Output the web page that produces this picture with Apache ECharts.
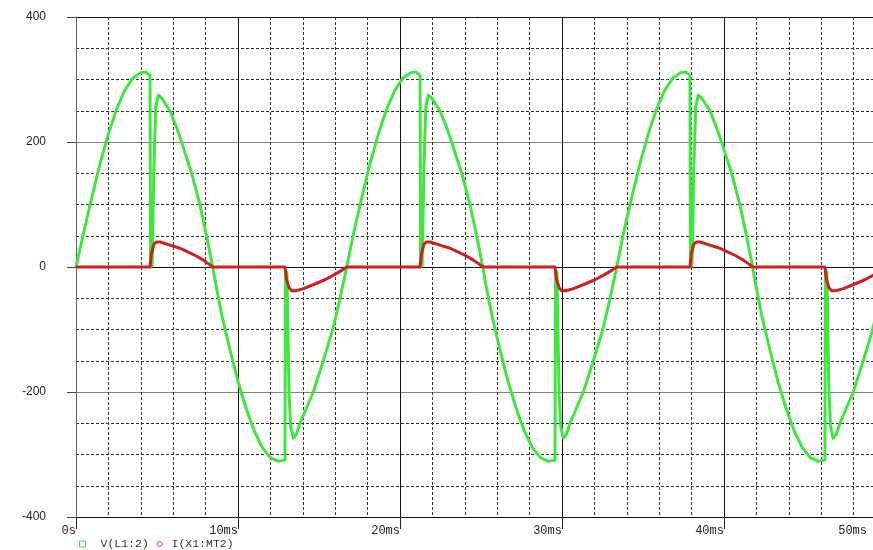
<!DOCTYPE html>
<html>
<head>
<meta charset="utf-8">
<script src="https://cdn.jsdelivr.net/npm/echarts@6/dist/echarts.min.js"></script>
<style>
html,body{margin:0;padding:0;background:#fff;}
#chart{width:873px;height:550px;}
</style>
</head>
<body>
<div id="chart"></div>
<script>
// ---- data (time in ms) ----
const seriesNames = ['V(L1:2)', 'I(X1:MT2)'];
const xTickLabels = ['0s', '10ms', '20ms', '30ms', '40ms', '50ms'];
const yTicks = [-400, -200, 0, 200, 400];

const vTime = [
  0.00, 0.50, 1.00, 1.50, 2.00, 2.50, 3.00, 3.50, 4.00, 4.30, 4.57, 4.60, 4.66, 4.70, 4.80, 4.92, 5.08, 5.30, 5.80, 6.20,
  6.52, 7.14, 7.65, 8.06, 8.44, 8.60, 9.00, 9.50, 10.00, 10.50, 11.00, 11.50, 12.00, 12.50, 12.90, 12.93, 12.98, 13.02, 13.15, 13.25,
  13.41, 13.60, 13.83, 14.65, 15.27, 15.85, 16.30, 16.71,
  17.17, 17.67, 18.17, 18.67, 19.17, 19.67, 20.17, 20.67, 20.97, 21.24, 21.27, 21.33, 21.37, 21.47, 21.59, 21.75, 21.97, 22.47, 22.87,
  23.19, 23.81, 24.32, 24.73, 25.11, 25.27, 25.67, 26.17, 26.67, 27.17, 27.67, 28.17, 28.67, 29.17, 29.57, 29.60, 29.65, 29.69, 29.82, 29.92,
  30.08, 30.27, 30.50, 31.32, 31.94, 32.52, 32.97, 33.38,
  33.83, 34.33, 34.83, 35.33, 35.83, 36.33, 36.83, 37.33, 37.63, 37.90, 37.93, 37.99, 38.03, 38.13, 38.25, 38.41, 38.63, 39.13, 39.53,
  39.85, 40.47, 40.98, 41.39, 41.77, 41.93, 42.33, 42.83, 43.33, 43.83, 44.33, 44.83, 45.33, 45.83, 46.23, 46.26, 46.31, 46.35, 46.48, 46.58,
  46.74, 46.93, 47.16, 47.98, 48.60, 49.18, 49.63
];
const vValues = [
  0, 58, 114, 167, 213, 252, 282, 302, 311, 312, 307, 0, 110, 2, 150, 255, 275, 270, 250, 224,
  200, 150, 100, 50, 0, -24, -77, -132, -183, -226, -262, -289, -305, -311, -309, -5, -120, -8, -200, -255,
  -274, -268, -250, -200, -150, -100, -50, 0,
  58, 114, 167, 213, 252, 282, 302, 311, 312, 307, 0, 110, 2, 150, 255, 275, 270, 250, 224,
  200, 150, 100, 50, 0, -24, -77, -132, -183, -226, -262, -289, -305, -311, -309, -5, -120, -8, -200, -255,
  -274, -268, -250, -200, -150, -100, -50, 0,
  58, 114, 167, 213, 252, 282, 302, 311, 312, 307, 0, 110, 2, 150, 255, 275, 270, 250, 224,
  200, 150, 100, 50, 0, -24, -77, -132, -183, -226, -262, -289, -305, -311, -309, -5, -120, -8, -200, -255,
  -274, -268, -250, -200, -150, -100, -50
];

const iTime = [
  0.00, 4.57, 4.65, 4.80, 4.95, 5.20, 5.80, 6.42, 6.83, 7.40, 7.86, 8.20, 8.44, 12.90, 13.00, 13.15, 13.31, 13.55, 14.00, 14.86, 15.40, 15.90, 16.30, 16.71,
  21.24, 21.32, 21.47, 21.62, 21.87, 22.47, 23.09, 23.50, 24.07, 24.53, 24.87, 25.11, 29.57, 29.67, 29.82, 29.98, 30.22, 30.67, 31.53, 32.07, 32.57, 32.97, 33.38,
  37.90, 37.98, 38.13, 38.28, 38.53, 39.13, 39.75, 40.16, 40.73, 41.19, 41.53, 41.77, 46.23, 46.33, 46.48, 46.64, 46.88, 47.33, 48.19, 48.73, 49.23
];
const iValues = [
  0, 0, 20, 36, 40, 40, 35, 30, 25, 18, 11, 5, 0, 0, -20, -33, -38, -38, -35, -26, -20, -13, -7, 0,
  0, 20, 36, 40, 40, 35, 30, 25, 18, 11, 5, 0, 0, -20, -33, -38, -38, -35, -26, -20, -13, -7, 0,
  0, 20, 36, 40, 40, 35, 30, 25, 18, 11, 5, 0, 0, -20, -33, -38, -38, -35, -26, -20, -13
];

const X_MAX = 49.2;
const GREEN = '#3ee63e';
const RED = '#d01f1f';

const vData = vTime.map((t, i) => [t, vValues[i]]);
const iData = iTime.map((t, i) => [t, iValues[i]]);

const legendText = {fontFamily: 'Liberation Mono', fontSize: 11.5, color: '#333'};

const chart = echarts.init(document.getElementById('chart'), null, {renderer: 'canvas'});
chart.setOption({
  animation: false,
  backgroundColor: '#ffffff',
  grid: {left: 76, right: 0, top: 17, bottom: 33, containLabel: false},
  legend: [
    {
      left: 79, top: 538, padding: 0,
      itemWidth: 6, itemHeight: 6,
      textStyle: Object.assign({padding: [0, 0, 0, 10]}, legendText),
      data: [{name: seriesNames[0], icon: 'rect',
        itemStyle: {color: 'rgba(0,0,0,0)', borderColor: GREEN, borderWidth: 1}}]
    },
    {
      left: 156, top: 538, padding: 0,
      itemWidth: 6, itemHeight: 6,
      textStyle: Object.assign({padding: [0, 0, 0, 4]}, legendText),
      data: [{name: seriesNames[1], icon: 'diamond',
        itemStyle: {color: 'rgba(0,0,0,0)', borderColor: RED, borderWidth: 1}}]
    }
  ],
  xAxis: [
    {
      type: 'value', min: 0, max: X_MAX, interval: 2, position: 'bottom', z: 1,
      axisLine: {show: false}, axisTick: {show: false}, axisLabel: {show: false},
      splitLine: {show: true, showMinLine: false, showMaxLine: false,
        lineStyle: {color: '#333', width: 1, type: [3, 2]}}
    },
    {
      type: 'value', min: 0, max: X_MAX, interval: 10, position: 'bottom', z: 2,
      axisLine: {show: true, lineStyle: {color: '#111', width: 1}},
      axisTick: {show: true, length: 12, lineStyle: {color: '#222'}},
      axisLabel: {
        show: true, showMinLabel: true, showMaxLabel: true,
        align: 'right', margin: 8,
        fontFamily: 'Liberation Mono', fontSize: 12, color: '#222',
        formatter: function (v) {
          if (Math.abs(v - X_MAX) < 1e-6) return '{m|' + xTickLabels[5] + '}';
          const idx = Math.round(v / 10);
          return xTickLabels[idx];
        },
        rich: {m: {fontFamily: 'Liberation Mono', fontSize: 12, color: '#222', padding: [0, 6, 0, 0]}}
      },
      splitLine: {show: true, showMinLine: false, showMaxLine: false,
        lineStyle: {color: '#111', width: 1, type: 'solid'}}
    }
  ],
  yAxis: {
    type: 'value', min: yTicks[0], max: yTicks[yTicks.length - 1], interval: 200,
    axisLine: {show: true, lineStyle: {color: '#666', width: 1}},
    axisTick: {show: true, length: 9, lineStyle: {color: '#444'}},
    axisLabel: {margin: 30, fontFamily: 'Liberation Sans', fontSize: 12, color: '#222'},
    splitLine: {show: true, lineStyle: {color: ['#111', '#808080', '#111', '#808080', '#111'], width: 1}},
    minorTick: {show: false, splitNumber: 4},
    minorSplitLine: {show: true, lineStyle: {color: '#333', width: 1, type: [3, 2]}}
  },
  series: [
    {
      name: seriesNames[0], type: 'line', xAxisIndex: 1, data: vData,
      showSymbol: false, symbol: 'rect', smooth: false,
      lineStyle: {color: GREEN, width: 3, join: 'round'}, itemStyle: {color: GREEN}, z: 3
    },
    {
      name: seriesNames[1], type: 'line', xAxisIndex: 1, data: iData,
      showSymbol: false, symbol: 'diamond', smooth: false,
      lineStyle: {color: RED, width: 3, join: 'round'}, itemStyle: {color: RED}, z: 4
    }
  ]
});
</script>
</body>
</html>
